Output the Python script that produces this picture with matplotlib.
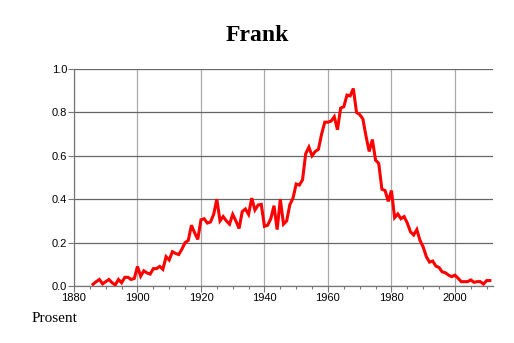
import matplotlib
matplotlib.use("Agg")
import matplotlib.pyplot as plt
from matplotlib.ticker import MultipleLocator

years = list(range(1886, 2012))
values = [
    0.008, 0.02, 0.03, 0.01, 0.02, 0.03, 0.015, 0.005, 0.03, 0.015,   # 1886-1895
    0.04, 0.04, 0.03, 0.035, 0.09, 0.045, 0.07, 0.06, 0.055, 0.08,    # 1896-1905
    0.08, 0.09, 0.077, 0.135, 0.12, 0.158, 0.15, 0.145, 0.17, 0.20,   # 1906-1915
    0.21, 0.28, 0.245, 0.215, 0.305, 0.31, 0.29, 0.295, 0.33, 0.40,   # 1916-1925
    0.30, 0.32, 0.30, 0.285, 0.33, 0.30, 0.265, 0.343, 0.355, 0.33,   # 1926-1935
    0.405, 0.35, 0.373, 0.376, 0.275, 0.28, 0.31, 0.37, 0.26, 0.40,   # 1936-1945
    0.285, 0.30, 0.375, 0.405, 0.47, 0.465, 0.49, 0.61, 0.64, 0.60,   # 1946-1955
    0.62, 0.63, 0.70, 0.755, 0.755, 0.76, 0.78, 0.72, 0.82, 0.826,    # 1956-1965
    0.88, 0.876, 0.91, 0.80, 0.79, 0.77, 0.69, 0.62, 0.675, 0.58,     # 1966-1975
    0.565, 0.446, 0.44, 0.39, 0.44, 0.315, 0.332, 0.31, 0.32, 0.29,   # 1976-1985
    0.25, 0.235, 0.26, 0.21, 0.18, 0.135, 0.11, 0.115, 0.092, 0.085,  # 1986-1995
    0.065, 0.061, 0.05, 0.043, 0.05, 0.036, 0.02, 0.02, 0.02, 0.028,  # 1996-2005
    0.017, 0.02, 0.02, 0.009, 0.025, 0.025,                           # 2006-2011
]
title = "Frank"
ylabel = "Prosent"

fig = plt.figure(figsize=(5.14, 3.43), dpi=100)
ax = fig.add_axes([74/514, 1-286/343, (493-74)/514, (286-69)/343])

ax.plot(years, values, color="#ff0000", lw=2.2, solid_joinstyle="miter", zorder=3)

ax.set_xlim(1880, 2012)
ax.set_ylim(0, 1.0)
ax.xaxis.set_major_locator(MultipleLocator(20))
ax.xaxis.set_minor_locator(MultipleLocator(5))
ax.yaxis.set_major_locator(MultipleLocator(0.2))
ax.yaxis.set_major_formatter(matplotlib.ticker.FormatStrFormatter("%.1f"))

ax.grid(axis="y", which="major", color="#666666", lw=0.9, zorder=0)
ax.grid(axis="x", which="major", color="#aaaaaa", lw=0.9, zorder=0)
for s in ["top", "right"]:
    ax.spines[s].set_visible(False)
for s in ["left", "bottom"]:
    ax.spines[s].set_color("#777777")
    ax.spines[s].set_linewidth(0.9)

ax.tick_params(axis="both", which="major", length=4, width=0.8, color="#777777",
               labelsize=8, pad=1)
ax.tick_params(axis="x", which="minor", length=2, width=0.8, color="#777777")
for lbl in ax.get_xticklabels() + ax.get_yticklabels():
    lbl.set_family("Liberation Sans")

fig.text(257/514, 1-41/343, title, ha="center", va="baseline",
         family="Liberation Serif", weight="bold", fontsize=17)
fig.text(32/514, 1-322/343, ylabel, ha="left", va="baseline",
         family="Liberation Serif", fontsize=11)

fig.savefig("out.png", dpi=100)
